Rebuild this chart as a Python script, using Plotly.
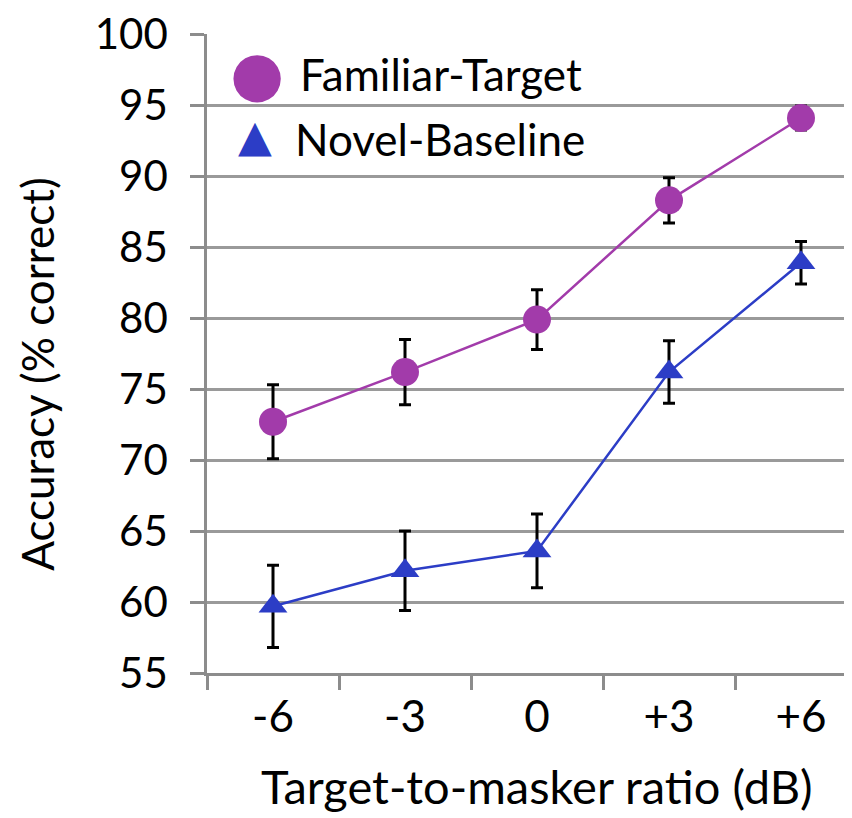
import plotly.graph_objects as go

categories = ["-6", "-3", "0", "+3", "+6"]
familiar = [72.7, 76.2, 79.9, 88.3, 94.1]
familiar_err = [2.6, 2.3, 2.1, 1.6, 0.85]
novel = [59.7, 62.2, 63.6, 76.2, 83.9]
novel_err = [2.9, 2.8, 2.6, 2.2, 1.5]
y_ticks = [55, 60, 65, 70, 75, 80, 85, 90, 95, 100]
series_names = ["Familiar-Target", "Novel-Baseline"]

FONT = "Lato"
purple = "#A23BAA"
blue = "#2C3DC6"
axis_grey = "#8c8c8c"

fig = go.Figure()
fig.add_trace(go.Scatter(
    x=categories, y=familiar, name=series_names[0], mode="lines+markers",
    line=dict(color=purple, width=2.5),
    marker=dict(symbol="circle", size=28, color=purple),
    error_y=dict(type="data", array=familiar_err, color="black", thickness=3, width=6),
    showlegend=False,
))
fig.add_trace(go.Scatter(
    x=categories, y=novel, name=series_names[1], mode="lines+markers",
    line=dict(color=blue, width=2.5),
    marker=dict(symbol="triangle-up", size=25, color=blue),
    error_y=dict(type="data", array=novel_err, color="black", thickness=3, width=6),
    showlegend=False,
))

fig.update_layout(
    width=852, height=818,
    margin=dict(l=199, r=0, t=23, b=153),
    plot_bgcolor="white", paper_bgcolor="white",
    font=dict(family=FONT, size=42, color="black"),
    xaxis=dict(
        type="category", range=[-0.5, 4.447],
        showline=True, linecolor=axis_grey, linewidth=2.5,
        ticks="outside", tickson="boundaries", ticklen=14, tickwidth=2.5, tickcolor=axis_grey,
        showgrid=False, ticklabelstandoff=3, tickfont=dict(size=44),
    ),
    yaxis=dict(
        range=[55, 100.02], tickvals=y_ticks,
        showline=True, linecolor=axis_grey, linewidth=2.5,
        ticks="outside", ticklen=14, tickwidth=2.5, tickcolor=axis_grey,
        showgrid=True, gridcolor="#9a9a9a", gridwidth=2.5,
        ticklabelstandoff=14, tickfont=dict(size=42), ticklabeloverflow="allow",
    ),
)

fig.add_annotation(
    text="Accuracy (% correct)", xref="paper", yref="paper", x=-0.2596, y=0.469,
    textangle=-90, showarrow=False, font=dict(size=44, family=FONT),
    xanchor="center", yanchor="middle",
)
fig.add_annotation(
    text="Target-to-masker ratio (dB)", xref="x", yref="paper", x=2, y=-0.2243,
    showarrow=False, font=dict(size=47, family=FONT), yanchor="bottom",
)

# legend drawn as text (large symbols like the original)
fig.add_annotation(text="●", xref="paper", yref="paper", x=0.0766, y=0.9377,
                   showarrow=False, font=dict(size=62, family="DejaVu Sans", color=purple),
                   xanchor="center", yanchor="middle")
fig.add_annotation(text="▲", xref="paper", yref="paper", x=0.0735, y=0.841,
                   showarrow=False, font=dict(size=44, family="DejaVu Sans", color=blue),
                   xanchor="center", yanchor="middle")
fig.add_annotation(text=series_names[0], xref="paper", yref="paper", x=0.139, y=0.9377,
                   showarrow=False, font=dict(size=44, family=FONT), bgcolor="white",
                   xanchor="left", yanchor="middle")
fig.add_annotation(text=series_names[1], xref="paper", yref="paper", x=0.1317, y=0.835,
                   showarrow=False, font=dict(size=44, family=FONT), bgcolor="white",
                   xanchor="left", yanchor="middle")

fig.write_html("out.html")
